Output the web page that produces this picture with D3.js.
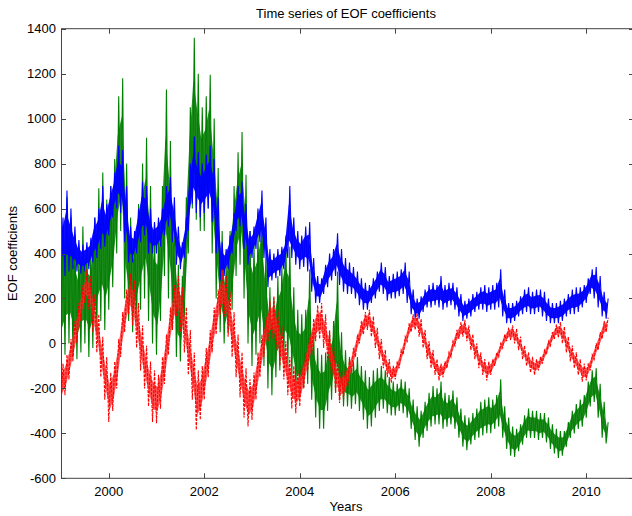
<!DOCTYPE html>
<html>
<head>
<meta charset="utf-8">
<script src="https://cdn.jsdelivr.net/npm/d3@7"></script>
<style>
  html, body { margin: 0; padding: 0; background: #fff; }
  svg { display: block; }
  text { font-family: "Liberation Sans", Arial, sans-serif; fill: #000; }
</style>
</head>
<body>
<svg id="chart" width="632" height="516"></svg>
<script>
// Half-month samples starting at 1999.0; each month holds a (low, high) pair of the daily spread.
const startYear = 1999;
const stepYears = 1 / 24;

const eof1 = [
  330,560, 300,680, 320,600, 330,520, 320,460, 310,440, 320,450, 330,470, 360,560, 380,600, 420,700, 430,620,
  480,700, 560,760, 600,880, 580,860, 450,700, 360,520, 360,500, 400,600, 450,720, 480,700, 400,600, 400,540,
  400,560, 430,600, 480,700, 520,740, 450,650, 350,520, 330,450, 380,560, 500,800, 620,920, 580,850, 560,800,
  580,840, 600,880, 540,820, 400,650, 280,450, 300,420, 330,480, 400,580, 500,700, 520,720, 420,620, 350,500,
  380,520, 420,600, 450,680, 380,560, 250,420, 280,400, 290,420, 300,430, 330,470, 380,700, 380,560, 350,500,
  330,480, 340,520, 320,540, 230,380, 180,300, 180,290, 220,350, 250,400, 280,420, 300,490, 260,420, 230,380,
  220,360, 220,340, 200,320, 170,290, 150,270, 150,260, 180,290, 200,320, 230,360, 220,340, 190,300, 200,310,
  200,320, 210,330, 220,360, 180,320, 130,240, 110,200, 110,210, 140,240, 160,260, 160,270, 170,260, 160,300,
  150,260, 160,270, 170,270, 150,250, 120,220, 100,190, 110,200, 120,220, 140,230, 150,250, 150,260, 140,250,
  150,260, 150,270, 160,330, 120,240, 90,180, 90,180, 100,190, 120,210, 130,240, 140,250, 130,230, 130,240,
  140,240, 120,230, 100,200, 90,180, 90,180, 90,190, 100,200, 120,220, 130,240, 130,250, 140,250, 160,260,
  180,290, 220,330, 200,340, 160,300, 120,230, 110,200
];

const eof2 = [
  -80,520, -50,650, 0,560, -60,480, -70,400, -40,520, 0,430, -60,420, -20,560, 50,690, 100,760, 60,640,
  150,700, 250,820, 400,1100, 500,1180, 200,800, 100,560, 50,480, 100,620, 150,800, 200,915, 100,700, 0,500,
  -50,480, 100,700, 300,1130, 200,900, 60,600, -60,350, -80,300, 100,650, 400,1050, 600,1360, 550,1200, 500,1050,
  500,1100, 600,1195, 400,1000, 200,780, 50,500, 0,350, 50,500, 150,700, 300,850, 350,940, 200,750, 0,500,
  -100,450, -50,500, 0,620, -100,420, -200,250, -230,200, -150,300, -120,350, -80,480, -100,430, -150,250, -230,150,
  -230,130, -200,150, -180,330, -250,50, -330,-20, -380,-50, -380,-40, -300,50, -250,100, -220,320, -250,50, -280,-30,
  -280,-60, -290,-80, -270,-60, -300,-100, -340,-120, -380,-150, -370,-120, -330,-110, -300,-100, -290,-120, -310,-150, -320,-170,
  -320,-180, -300,-160, -310,-170, -330,-200, -380,-250, -430,-280, -460,-300, -420,-260, -390,-220, -370,-190, -360,-200, -360,-170,
  -380,-220, -370,-230, -360,-210, -380,-240, -420,-290, -460,-320, -475,-330, -450,-310, -430,-290, -420,-260, -410,-250, -400,-240,
  -400,-250, -380,-230, -370,-160, -420,-280, -470,-330, -500,-370, -505,-380, -480,-360, -450,-320, -420,-290, -420,-300, -420,-300,
  -430,-310, -420,-310, -440,-330, -470,-360, -490,-380, -510,-390, -500,-390, -460,-350, -420,-300, -400,-270, -380,-250, -370,-230,
  -330,-170, -280,-120, -260,-110, -330,-180, -420,-260, -445,-350
];

const eof3 = [
  -270,-90, -230,-50, -160,20, -80,100, 0,180, 100,260, 180,330, 150,300, 50,220, -40,130, -150,30, -250,-60,
  -350,-130, -300,-80, -200,20, -60,140, 50,240, 130,310, 80,280, -20,180, -120,80, -200,-10, -280,-80, -350,-120,
  -355,-140, -290,-60, -180,40, -50,160, 60,260, 120,300, 50,250, -40,160, -140,60, -250,-40, -385,-120, -340,-100,
  -250,-20, -150,60, -40,160, 40,240, 130,330, 120,300, 30,230, -60,140, -150,40, -240,-40, -330,-110, -370,-160,
  -340,-130, -250,-40, -150,40, -60,120, 10,190, 20,210, -30,150, -100,80, -160,10, -230,-60, -290,-100, -310,-120,
  -280,-100, -200,-40, -120,40, -50,110, 10,170, 20,180, -20,130, -80,60, -150,-10, -220,-80, -265,-120, -250,-110,
  -200,-70, -130,-20, -60,40, 0,100, 40,140, 60,150, 30,120, -20,70, -70,20, -110,-30, -150,-70, -175,-100,
  -160,-80, -110,-30, -50,30, 10,90, 50,130, 60,135, 30,110, -20,60, -70,10, -110,-30, -140,-70, -165,-90,
  -150,-80, -110,-40, -60,10, -10,60, 20,95, 30,105, 10,80, -30,40, -70,0, -110,-40, -140,-70, -165,-80,
  -140,-70, -100,-40, -60,0, -20,40, 10,70, 15,80, 0,65, -30,30, -70,-10, -100,-40, -130,-60, -140,-70,
  -120,-60, -90,-30, -50,10, -10,50, 20,85, 25,95, 0,75, -40,30, -80,-10, -110,-40, -140,-70, -170,-90,
  -165,-88, -120,-50, -70,0, -30,50, 20,100, 50,115
];

const xTickValues = [2000, 2002, 2004, 2006, 2008, 2010];
const yTickValues = [-600, -400, -200, 0, 200, 400, 600, 800, 1000, 1200, 1400];

const titleText = "Time series of EOF coefficients";
const xLabelText = "Years";
const yLabelText = "EOF coefficients";

const svg = d3.select("#chart");
const plotLeft = 61, plotRight = 634, plotTop = 28.7, plotBottom = 478.3;

const x = d3.scaleLinear().domain([1999, 2011]).range([plotLeft, plotRight]);
const y = d3.scaleLinear().domain([-600, 1400]).range([plotBottom, plotTop]);

svg.append("defs").append("clipPath").attr("id", "plotClip")
  .append("rect").attr("x", plotLeft).attr("y", plotTop)
  .attr("width", plotRight - plotLeft).attr("height", plotBottom - plotTop);

// Trace through every half-month sample
const line = d3.line()
  .x((d, i) => x(startYear + i * stepYears))
  .y(d => y(d));

// Dense core of each month's spread, drawn beneath the trace
function monthlySpread(vals) {
  return d3.range(Math.floor(vals.length / 2)).map(k => ({
    t: startYear + (2 * k + 0.5) * stepYears,
    lo: vals[2 * k],
    hi: vals[2 * k + 1]
  }));
}
const core = d3.area()
  .x(d => x(d.t))
  .y0(d => y(d.lo + (d.hi - d.lo) * 0.25))
  .y1(d => y(d.hi - (d.hi - d.lo) * 0.25));

const series = [
  { vals: eof2, color: "#008000", fill: "#0a800a", fillOpacity: 0.9, dash: null, width: 1.1 },
  { vals: eof1, color: "#0000ff", fill: "#0000ff", fillOpacity: 0.95, dash: null, width: 1.1 },
  { vals: eof3, color: "#ff0000", fill: "#ff2a2a", fillOpacity: 0.8, dash: "3,1.2", width: 1.1 }
];

const plot = svg.append("g").attr("clip-path", "url(#plotClip)");
series.forEach(s => {
  plot.append("path")
    .datum(monthlySpread(s.vals))
    .attr("d", core)
    .attr("fill", s.fill)
    .attr("fill-opacity", s.fillOpacity)
    .attr("stroke", "none");
  plot.append("path")
    .datum(s.vals)
    .attr("d", line)
    .attr("fill", "none")
    .attr("stroke", s.color)
    .attr("stroke-width", s.width)
    .attr("stroke-linejoin", "miter")
    .attr("stroke-dasharray", s.dash);
});

// Box with inward ticks on all four sides
const axisColor = "#444";
const tickLen = 5;
const axes = svg.append("g").attr("stroke", axisColor).attr("stroke-width", 1).attr("fill", "none");
axes.append("rect").attr("x", plotLeft + 0.5).attr("y", plotTop)
  .attr("width", plotRight - plotLeft).attr("height", plotBottom - plotTop);

xTickValues.forEach(v => {
  const px = Math.round(x(v)) + 0.5;
  axes.append("line").attr("x1", px).attr("x2", px).attr("y1", plotBottom).attr("y2", plotBottom - tickLen);
  axes.append("line").attr("x1", px).attr("x2", px).attr("y1", plotTop).attr("y2", plotTop + tickLen);
});
yTickValues.forEach(v => {
  const py = Math.round(y(v)) + 0.5;
  axes.append("line").attr("x1", plotLeft).attr("x2", plotLeft + tickLen).attr("y1", py).attr("y2", py);
  axes.append("line").attr("x1", plotRight).attr("x2", plotRight - tickLen).attr("y1", py).attr("y2", py);
});

const labels = svg.append("g").attr("font-size", 13);
xTickValues.forEach(v => {
  labels.append("text").attr("x", x(v)).attr("y", 496)
    .attr("text-anchor", "middle").text(d3.format("d")(v));
});
yTickValues.forEach(v => {
  labels.append("text").attr("x", 56).attr("y", y(v) + 4.5)
    .attr("text-anchor", "end").text(String(v));
});

svg.append("text").attr("x", 346).attr("y", 18)
  .attr("text-anchor", "middle").attr("font-size", 13).text(titleText);
svg.append("text").attr("x", 346).attr("y", 511)
  .attr("text-anchor", "middle").attr("font-size", 13).text(xLabelText);
svg.append("text")
  .attr("transform", "translate(17,253.5) rotate(-90)")
  .attr("text-anchor", "middle").attr("font-size", 13).text(yLabelText);
</script>
</body>
</html>
